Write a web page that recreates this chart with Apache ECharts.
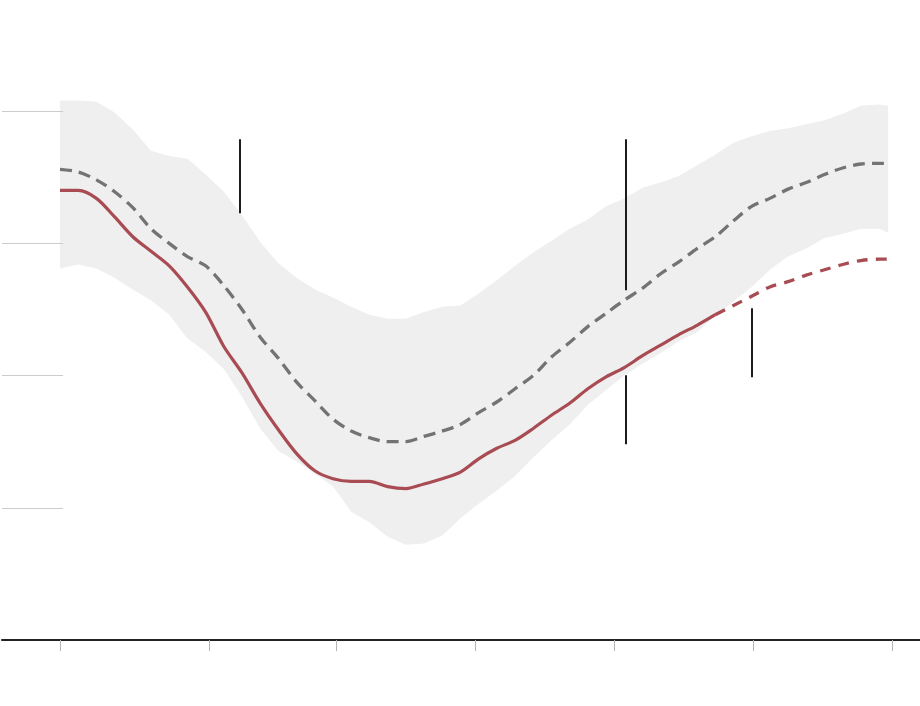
<!DOCTYPE html>
<html>
<head>
<meta charset="utf-8">
<script src="https://cdn.jsdelivr.net/npm/echarts@6/dist/echarts.min.js"></script>
<style>
  html, body { margin: 0; padding: 0; background: #fff; }
  #chart { width: 920px; height: 706px; }
</style>
</head>
<body>
<div id="chart"></div>
<script>
// day index from the start of the series, sampled every 4 days
var days = [0, 4, 8, 12, 16, 20, 24, 28, 32, 36, 40, 44, 48, 52, 56, 60, 64, 68, 72, 76, 80, 84, 88, 92,
    96, 100, 104, 108, 112, 116, 120, 124, 128, 132, 136, 140, 144, 148, 152, 156, 160, 164, 168, 172,
    176, 180, 182];

var actual = [340, 340, 334, 320, 305, 294, 283, 267, 248, 222, 202, 179, 159, 141, 128, 122, 120, 120,
    116, 114.5, 118, 122, 127, 137, 145, 151, 160, 170, 179, 190, 199, 206, 215, 223, 231, 238, 246,
    253, 260, 267, 271, 276, 280, 284, 287, 288, 288];

var normal = [356, 354, 348, 339, 327, 311, 300, 290, 283, 268, 250, 229, 213, 195, 181, 167, 158, 153,
    150, 150, 154, 158, 163, 172, 180, 190, 200, 214, 225, 237, 247, 257, 266, 277, 286, 296, 305,
    317, 328, 334, 341, 346, 352, 357, 360, 360.5, 360.5];

var rangeHigh = [408, 408, 407, 399, 386, 370, 366, 364, 352, 339, 321, 301, 285, 274, 265, 259, 252, 246,
    243, 243, 248, 252, 253, 262, 272, 283, 293, 302, 311, 318, 328, 334, 342, 346, 351, 359, 367,
    376, 381, 385, 387, 390, 393, 398, 404, 405, 404];

var rangeLow = [281, 284, 281, 274, 265, 257, 246, 228, 218, 205, 184, 160, 143, 135, 126, 116, 97, 89,
    78, 72, 73, 79, 92, 103, 113, 124, 138, 151, 163, 178, 189, 200, 209, 217, 226, 233, 245,
    256, 267, 280, 290, 296, 304, 307, 311, 311, 308];

// last observed day; after it the red line is a projection
var lastObserved = 144;

var xTicks = [0, 32.9, 60.6, 91.3, 121.8, 152.4, 183];
var yTicks = [100, 200, 300, 400];

// vertical annotation pointers: [day, from, to]
var pointers = [
    [39.6, 378.7, 322.7],
    [124.4, 378.7, 264.5],
    [124.4, 200.3, 148.1],
    [152.1, 250.9, 198.8]
];

function pairs(values, from, to) {
    var out = [];
    for (var i = 0; i < days.length; i++) {
        if (days[i] >= from && days[i] <= to) {
            out.push([days[i], values[i]]);
        }
    }
    return out;
}

var bandData = days.map(function(d, i) { return [d, rangeHigh[i], rangeLow[i]]; });

// whole band drawn as one polygon from the first item
function renderBand(params, api) {
    if (params.dataIndex !== 0) return;
    var pts = [];
    for (var i = 0; i < days.length; i++) {
        pts.push(api.coord([days[i], rangeHigh[i]]));
    }
    for (var j = days.length - 1; j >= 0; j--) {
        pts.push(api.coord([days[j], rangeLow[j]]));
    }
    return {
        type: 'polygon',
        shape: { points: pts },
        style: { fill: '#efefef' },
        silent: true
    };
}

var chart = echarts.init(document.getElementById('chart'), null, { renderer: 'canvas' });

var option = {
    animation: false,
    backgroundColor: '#fff',
    grid: {
        left: 2,
        right: 0,
        top: 45,
        bottom: 66,
        containLabel: false,
        outerBoundsMode: 'none'
    },
    xAxis: {
        type: 'value',
        min: -12.75,
        max: 189,
        z: 5,
        axisLine: {
            onZero: false,
            lineStyle: { color: '#222', width: 2 }
        },
        axisTick: {
            show: true,
            customValues: xTicks,
            length: 11,
            lineStyle: { color: '#b5b5b5', width: 1 }
        },
        axisLabel: { show: false },
        splitLine: { show: false }
    },
    yAxis: {
        type: 'value',
        min: 0,
        max: 450,
        z: 5,
        axisLine: { show: false, onZero: false },
        axisTick: {
            show: true,
            inside: true,
            length: 61,
            customValues: yTicks,
            lineStyle: { color: '#cccccc', width: 1 }
        },
        axisLabel: { show: false },
        splitLine: { show: false }
    },
    series: [
        {
            name: 'range',
            type: 'custom',
            renderItem: renderBand,
            data: bandData,
            z: 1,
            silent: true
        },
        {
            name: 'normal',
            type: 'line',
            data: pairs(normal, 0, 999),
            symbol: 'none',
            smooth: 0.3,
            z: 3,
            lineStyle: { color: '#737373', width: 3.3, type: [12, 7] },
            markLine: {
                silent: true,
                symbol: 'none',
                label: { show: false },
                lineStyle: { color: '#1c1c1c', width: 2, type: 'solid' },
                data: pointers.map(function(p) {
                    return [{ coord: [p[0], p[1]] }, { coord: [p[0], p[2]] }];
                })
            }
        },
        {
            name: 'actual',
            type: 'line',
            data: pairs(actual, 0, lastObserved),
            symbol: 'none',
            smooth: 0.3,
            z: 4,
            lineStyle: { color: '#a84b53', width: 3.2 }
        },
        {
            name: 'projected',
            type: 'line',
            data: pairs(actual, lastObserved, 999),
            symbol: 'none',
            smooth: 0.3,
            z: 4,
            lineStyle: { color: '#a84b53', width: 3.3, type: [11, 8] }
        }
    ]
};

chart.setOption(option);
</script>
</body>
</html>
